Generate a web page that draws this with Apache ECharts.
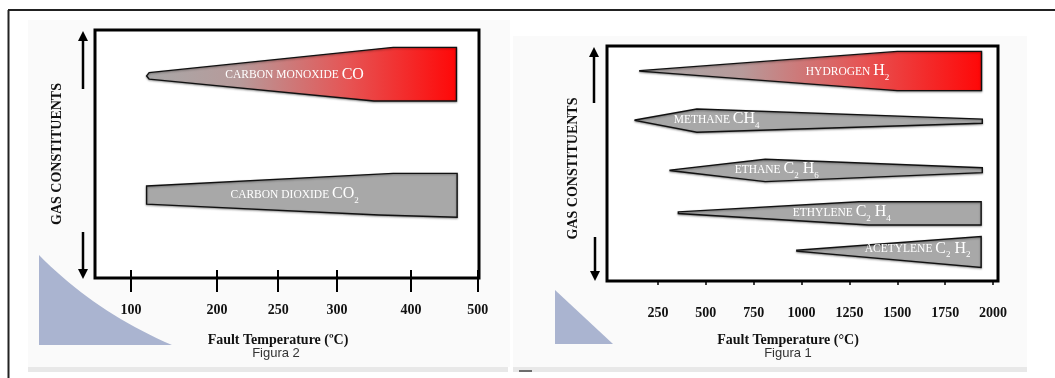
<!DOCTYPE html>
<html><head><meta charset="utf-8">
<script src="https://cdn.jsdelivr.net/npm/echarts@6/dist/echarts.min.js"></script>
<style>html,body{margin:0;padding:0;background:#fff}#c{width:1055px;height:378px}</style>
</head><body><div id="c"></div>
<script>
// ---------------- DATA ----------------
// Figura 2 (left panel)
const leftTicks = [100, 200, 250, 300, 400, 500];
// the hand-drawn temperature axis is not linear: where each tick sits along the axis (0..1)
const leftTickFrac = [0.094, 0.318, 0.477, 0.630, 0.823, 0.997];
const leftNames = [['CARBON MONOXIDE', 'CO'], ['CARBON DIOXIDE', 'CO2']];
const coUpper  = [[118, 81.5], [121, 82.8], [376, 93.0], [468, 93.0]];
const coLower  = [[121, 80.2], [350, 71.4], [468, 71.4]];
const co2Upper = [[118, 37.1], [376, 42.2], [469, 42.2]];
const co2Lower = [[118, 29.8], [357, 25.4], [469, 24.5]];
const leftLabelAt = [[264, 81.5], [264, 33.2]];

// Figura 1 (right panel)
const rightTicks = [250, 500, 750, 1000, 1250, 1500, 1750, 2000];
const rightNames = [['HYDROGEN', 'H2'], ['METHANE', 'CH4'], ['ETHANE', 'C2 H6'], ['ETHYLENE', 'C2 H4'], ['ACETYLENE', 'C2 H2']];
const h2Upper   = [[155, 89.5], [1500, 97.7], [1940, 97.7]];
const h2Lower   = [[155, 89.3], [1500, 81.0], [1940, 81.0]];
const ch4Upper  = [[130, 68.5], [453, 73.2], [1944, 68.9]];
const ch4Lower  = [[130, 68.3], [453, 63.3], [1944, 67.1]];
const c2h6Upper = [[313, 47.2], [810, 51.8], [1944, 48.2]];
const c2h6Lower = [[313, 47.0], [810, 42.3], [1944, 46.1]];
const c2h4Upper = [[356, 29.4], [1300, 33.7], [1938, 33.7]];
const c2h4Lower = [[356, 28.7], [1350, 23.8], [1938, 23.8]];
const c2h2Upper = [[975, 13.1], [1938, 18.9]];
const c2h2Lower = [[975, 12.7], [1938, 5.8]];
const rightLabelAt = [[1240, 88.8], [556, 68.2], [870, 46.9], [1210, 28.8], [1606, 13.2]];

// ---------------- BUILD ----------------
const SERIF = "'Liberation Serif','Times New Roman',serif";
const leftShapes = [
  {upper: coUpper, lower: coLower, red: true},
  {upper: co2Upper, lower: co2Lower, red: false}
];
const rightShapes = [
  {upper: h2Upper, lower: h2Lower, red: true},
  {upper: ch4Upper, lower: ch4Lower, red: false},
  {upper: c2h6Upper, lower: c2h6Lower, red: false},
  {upper: c2h4Upper, lower: c2h4Lower, red: false},
  {upper: c2h2Upper, lower: c2h2Lower, red: false}
];

function leftWarp(t) {
  let i = 0;
  while (i < leftTicks.length - 2 && t > leftTicks[i + 1]) i++;
  const t0 = leftTicks[i], t1 = leftTicks[i + 1];
  const f0 = leftTickFrac[i], f1 = leftTickFrac[i + 1];
  return f0 + (t - t0) / (t1 - t0) * (f1 - f0);
}
const identity = t => t;

function richFor(name) {
  let s = '{a|' + name[0] + ' }';
  for (const ch of name[1]) {
    if (/[0-9]/.test(ch)) s += '{s|' + ch + '}';
    else s += '{b|' + ch + '}';
  }
  return s;
}
const rich = {
  a: {fontFamily: SERIF, fontSize: 11.5, color: '#fff', verticalAlign: 'bottom', padding: [0, 0, 4, 0]},
  b: {fontFamily: SERIF, fontSize: 16, color: '#fff', verticalAlign: 'bottom', padding: [0, 0, 3, 0]},
  s: {fontFamily: SERIF, fontSize: 9, color: '#fff', verticalAlign: 'bottom', padding: [0, 0, 0, 0]}
};

function makeRender(shapes, names, labelAt, warp) {
  return function (params, api) {
    const i = params.dataIndex;
    const sh = shapes[i];
    const pts = sh.upper.map(p => api.coord([warp(p[0]), p[1]]))
      .concat(sh.lower.slice().reverse().map(p => api.coord([warp(p[0]), p[1]])));
    const fill = sh.red
      ? {type: 'linear', x: 0, y: 0, x2: 1, y2: 0, colorStops: [
          {offset: 0, color: '#a8a8a8'}, {offset: 0.3, color: '#b79a9a'},
          {offset: 0.65, color: '#e65454'}, {offset: 1, color: '#ff0707'}]}
      : '#a8a8a8';
    const lp = api.coord([warp(labelAt[i][0]), labelAt[i][1]]);
    return {
      type: 'group',
      children: [
        {type: 'polygon', shape: {points: pts},
         style: {fill: fill, stroke: '#111', lineWidth: 1.4,
                 shadowBlur: 2, shadowColor: 'rgba(0,0,0,0.35)', shadowOffsetY: 1}},
        {type: 'text', x: lp[0], y: lp[1],
         style: {text: richFor(names[i]), rich: rich, align: 'center', verticalAlign: 'middle', fill: '#fff'}}
      ]
    };
  };
}

function nearestLabel(v, fracs, labels) {
  let best = 0;
  for (let i = 1; i < fracs.length; i++) if (Math.abs(fracs[i] - v) < Math.abs(fracs[best] - v)) best = i;
  return String(labels[best]);
}

// decorative blue corner with a curved edge
function curvedCorner() {
  const pts = [];
  for (let k = 0; k <= 20; k++) {
    const t = k / 20;
    pts.push([(1 - t) * (1 - t) * 39 + 2 * (1 - t) * t * 95 + t * t * 172,
              (1 - t) * (1 - t) * 255 + 2 * (1 - t) * t * 312 + t * t * 345]);
  }
  pts.push([39, 345]);
  return pts;
}

const tickLabelStyle = {fontFamily: SERIF, fontWeight: 'bold', fontSize: 14, color: '#111'};
const nameStyle = {fontFamily: SERIF, fontWeight: 'bold', fontSize: 14, color: '#111'};

const option = {
  animation: false,
  backgroundColor: '#fff',
  grid: [
    {left: 95, top: 30, width: 384, height: 248, show: true, borderColor: '#000', borderWidth: 3, backgroundColor: '#fff'},
    {left: 607, top: 46, width: 391, height: 235, show: true, borderColor: '#000', borderWidth: 3, backgroundColor: '#fff'}
  ],
  xAxis: [
    {gridIndex: 0, type: 'value', min: 0, max: 1, position: 'bottom', offset: -8,
     axisLine: {show: false}, splitLine: {show: false},
     axisTick: {show: true, length: 22, customValues: leftTickFrac, lineStyle: {color: '#000', width: 2}},
     axisLabel: Object.assign({customValues: leftTickFrac, margin: 33,
       formatter: v => nearestLabel(v, leftTickFrac, leftTicks)}, tickLabelStyle),
     name: 'Fault Temperature (ºC)', nameLocation: 'middle', nameGap: 63,
     nameTextStyle: Object.assign({padding: [0, 18, 0, 0]}, nameStyle)},
    {gridIndex: 1, type: 'value', min: -16.5, max: 2026, position: 'bottom', offset: 12,
     axisLine: {show: false}, splitLine: {show: false},
     axisTick: {show: true, length: 4, customValues: rightTicks, lineStyle: {color: '#000', width: 1.5}},
     axisLabel: Object.assign({customValues: rightTicks, margin: 13,
       formatter: v => nearestLabel(v, rightTicks, rightTicks)}, tickLabelStyle),
     name: 'Fault Temperature (°C)', nameLocation: 'middle', nameGap: 40,
     nameTextStyle: Object.assign({padding: [0, 29, 0, 0]}, nameStyle)}
  ],
  yAxis: [
    {gridIndex: 0, type: 'value', min: 0, max: 100,
     axisLine: {show: false}, axisTick: {show: false}, axisLabel: {show: false}, splitLine: {show: false},
     name: 'GAS CONSTITUENTS', nameLocation: 'middle', nameGap: 31, nameTextStyle: nameStyle},
    {gridIndex: 1, type: 'value', min: 0, max: 100,
     axisLine: {show: false}, axisTick: {show: false}, axisLabel: {show: false}, splitLine: {show: false},
     name: 'GAS CONSTITUENTS', nameLocation: 'middle', nameGap: 27,
     nameTextStyle: Object.assign({padding: [0, 10, 0, 0]}, nameStyle)}
  ],
  series: [
    {type: 'custom', xAxisIndex: 0, yAxisIndex: 0, clip: false,
     data: leftLabelAt.map(p => [leftWarp(p[0]), p[1]]),
     renderItem: makeRender(leftShapes, leftNames, leftLabelAt, leftWarp)},
    {type: 'custom', xAxisIndex: 1, yAxisIndex: 1, clip: false,
     data: rightLabelAt.map(p => [p[0], p[1]]),
     renderItem: makeRender(rightShapes, rightNames, rightLabelAt, identity)}
  ],
  graphic: [
    {type: 'rect', z: -10, shape: {x: 28, y: 20, width: 482, height: 347}, style: {fill: '#fafafa'}},
    {type: 'rect', z: -10, shape: {x: 513, y: 36, width: 514, height: 331}, style: {fill: '#fafafa'}},
    {type: 'rect', z: -9, shape: {x: 28, y: 367, width: 480, height: 5}, style: {fill: '#e8e8e8'}},
    {type: 'rect', z: -9, shape: {x: 513, y: 367, width: 514, height: 5}, style: {fill: '#e8e8e8'}},
    {type: 'line', shape: {x1: 519, y1: 371, x2: 532, y2: 371}, style: {stroke: '#444', lineWidth: 1.5}},
    {type: 'line', shape: {x1: 8, y1: 10, x2: 1055, y2: 10}, style: {stroke: '#222', lineWidth: 2}},
    {type: 'line', shape: {x1: 8.5, y1: 10, x2: 8.5, y2: 378}, style: {stroke: '#222', lineWidth: 2}},
    {type: 'polygon', z: -8, shape: {points: curvedCorner()}, style: {fill: '#aab4d0'}},
    {type: 'polygon', z: -8, shape: {points: [[555, 290], [555, 344], [613, 344]]}, style: {fill: '#aab4d0'}},
    {type: 'line', shape: {x1: 83, y1: 38, x2: 83, y2: 89}, style: {stroke: '#000', lineWidth: 2.5}},
    {type: 'polygon', shape: {points: [[83, 31], [78, 41], [88, 41]]}, style: {fill: '#000'}},
    {type: 'line', shape: {x1: 83, y1: 232, x2: 83, y2: 270}, style: {stroke: '#000', lineWidth: 2.5}},
    {type: 'polygon', shape: {points: [[83, 279], [78, 269], [88, 269]]}, style: {fill: '#000'}},
    {type: 'line', shape: {x1: 594, y1: 55, x2: 594, y2: 103}, style: {stroke: '#000', lineWidth: 2.5}},
    {type: 'polygon', shape: {points: [[594, 47], [589, 57], [599, 57]]}, style: {fill: '#000'}},
    {type: 'line', shape: {x1: 595, y1: 237, x2: 595, y2: 273}, style: {stroke: '#000', lineWidth: 2.5}},
    {type: 'polygon', shape: {points: [[595, 281], [590, 271], [600, 271]]}, style: {fill: '#000'}},
    {type: 'text', x: 276, y: 353, style: {text: 'Figura 2', font: "13px 'Liberation Sans', Arial, sans-serif", fill: '#333', align: 'center', verticalAlign: 'middle'}},
    {type: 'text', x: 788, y: 353, style: {text: 'Figura 1', font: "13px 'Liberation Sans', Arial, sans-serif", fill: '#333', align: 'center', verticalAlign: 'middle'}}
  ]
};

const chart = echarts.init(document.getElementById('c'));
chart.setOption(option);
</script>
</body></html>
